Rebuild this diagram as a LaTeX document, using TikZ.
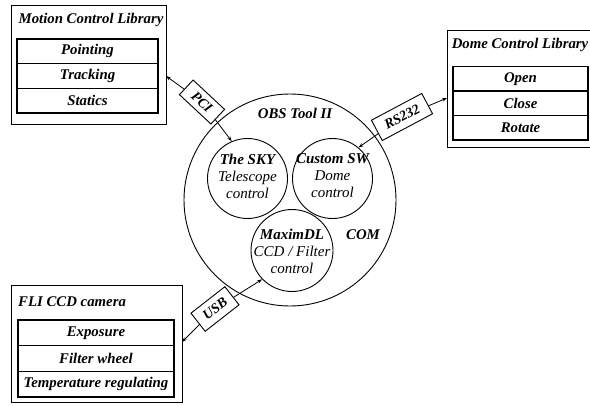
\documentclass[tikz,border=0pt]{standalone}
\usepackage{fontspec}
\setmainfont{Liberation Serif}
\usetikzlibrary{arrows.meta}
\begin{document}
\begin{tikzpicture}[x=1pt,y=-1pt,
  outerbox/.style={draw,line width=0.8pt},
  rowbox/.style={draw,line width=1.3pt,rectangle,inner sep=0pt,font=\fontsize{14.8}{16}\selectfont\bfseries\itshape},
  titletext/.style={inner sep=0pt,font=\fontsize{14.8}{16}\selectfont\bfseries\itshape},
  ring/.style={draw,circle,line width=0.9pt,inner sep=0pt},
  ctext/.style={align=center,inner sep=0pt,font=\fontsize{15}{17}\selectfont\itshape},
  tag/.style={draw,fill=white,line width=0.9pt,rectangle,inner sep=0pt,font=\fontsize{14}{15}\selectfont\bfseries\itshape},
  link/.style={line width=0.8pt,{Stealth[length=5pt,width=3.5pt]}-{Stealth[length=5pt,width=3.5pt]}}
]
\useasboundingbox (0,0) rectangle (590,405);

% Motion Control Library
\node[outerbox,rectangle,inner sep=0pt,minimum width=155pt,minimum height=119pt] (mcl) at (88.5,64.5) {};
\node[titletext] (mclt) at (91,20) {Motion Control Library};
\node[rowbox,minimum width=141pt,minimum height=24.67pt] (pnt) at (87.5,51.3) {Pointing};
\node[rowbox,minimum width=141pt,minimum height=24.67pt] (trk) at (87.5,76) {Tracking};
\node[rowbox,minimum width=141pt,minimum height=24.67pt] (sta) at (87.5,100.7) {Statics};

% Dome Control Library
\node[outerbox,rectangle,inner sep=0pt,minimum width=149pt,minimum height=117pt] (dcl) at (521.5,88.5) {};
\node[titletext] (dclt) at (520,45) {Dome Control Library};
\node[rowbox,minimum width=135pt,minimum height=24.5pt] (opn) at (520.5,78.75) {Open};
\node[rowbox,minimum width=135pt,minimum height=24.5pt] (cls) at (520.5,103.25) {Close};
\node[rowbox,minimum width=135pt,minimum height=24.5pt] (rot) at (520.5,127.75) {Rotate};

% FLI CCD camera
\node[outerbox,rectangle,inner sep=0pt,minimum width=171pt,minimum height=117pt] (fli) at (96.5,343.5) {};
\node[titletext,anchor=west] (flit) at (18,302) {FLI CCD camera};
\node[rowbox,minimum width=156pt,minimum height=25.67pt] (exp) at (96,332.8) {Exposure};
\node[rowbox,minimum width=156pt,minimum height=25.67pt] (fwh) at (96,358.5) {Filter wheel};
\node[rowbox,minimum width=156pt,minimum height=25.67pt] (tmp) at (96,384.2) {Temperature regulating};

% OBS Tool II
\node[ring,minimum size=212pt] (obs) at (290,200) {};
\node[titletext] (obst) at (295,113) {OBS Tool II};
\node[titletext] (com) at (363,235) {COM};
\node[ring,minimum size=80pt] (sky) at (247.5,178.5) {};
\node[ring,minimum size=80pt] (cus) at (332.5,178.5) {};
\node[ring,minimum size=82pt] (max) at (292,250.5) {};
\node[ctext] (skyt) at (247.5,176) {\textbf{The SKY}\\Telescope\\control};
\node[ctext] (cust) at (332.5,176) {\textbf{Custom SW}\\Dome\\control};
\node[ctext] (maxt) at (292,251) {\textbf{MaximDL}\\CCD / Filter\\control};

% connectors
\coordinate (pciA) at (166,76);
\coordinate (rsA) at (447,98);
\coordinate (usbA) at (182,342);
\draw[link] (pciA) -- (202,102) -- (sky.113);
\draw[link] (rsA) -- (402,117) -- (cus.50);
\draw[link] (usbA) -- (215,309) -- (max.224);
\node[tag,rotate=-43,minimum width=43pt,minimum height=20pt] (pci) at (202,102) {PCI};
\node[tag,rotate=28,minimum width=57pt,minimum height=23pt] (rs) at (402,117) {RS232};
\node[tag,rotate=38,minimum width=43pt,minimum height=23pt] (usb) at (215,309) {USB};
\end{tikzpicture}
\end{document}
